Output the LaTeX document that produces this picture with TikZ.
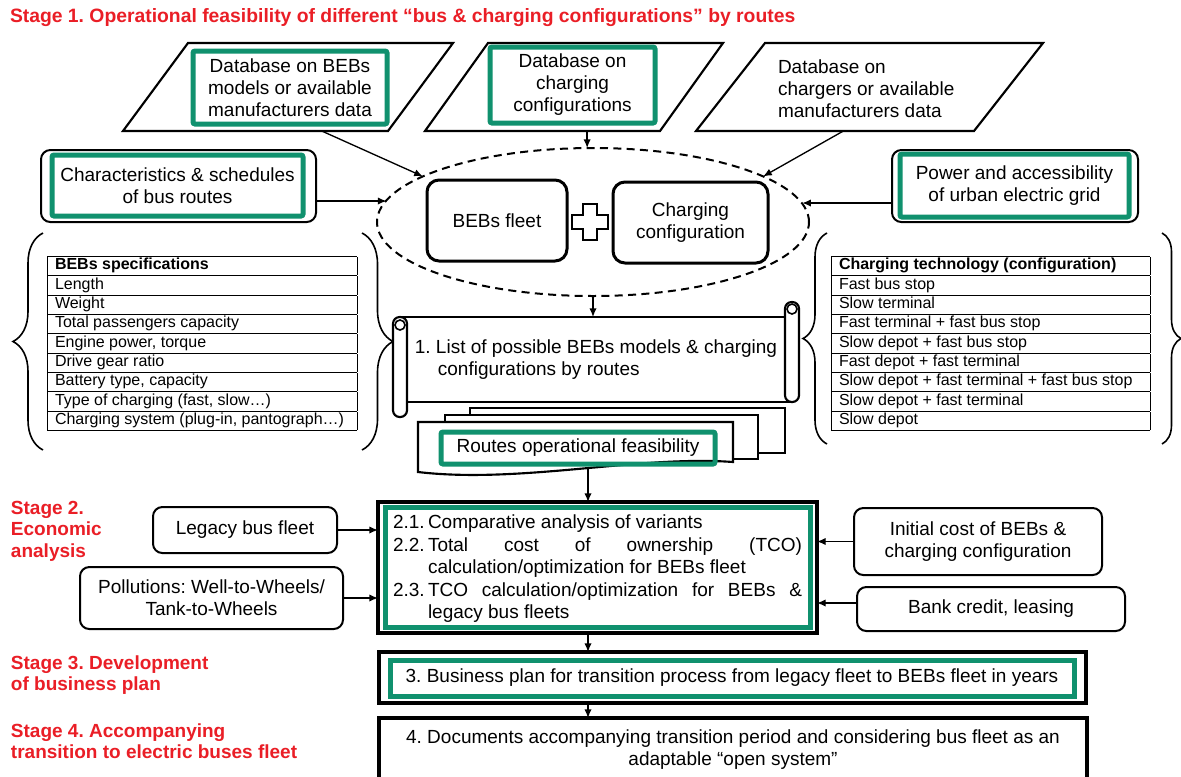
\documentclass[tikz,border=0pt]{standalone}
\usepackage{fontspec}
\setmainfont{Liberation Sans}
\usetikzlibrary{shapes.geometric,arrows.meta,calc,decorations.pathreplacing}
\definecolor{hlgreen}{RGB}{16,145,110}
\definecolor{stagered}{RGB}{234,30,38}

\newcommand\bodysize{\fontsize{14.25}{16.5}\selectfont}
\newcommand\tabsize{\fontsize{12}{13.75}\selectfont}
\newcommand\stagesize{\fontsize{14.25}{16.1}\selectfont\bfseries}

\begin{document}
\frenchspacing
\begin{tikzpicture}[x=0.75pt,y=-0.75pt,
  every node/.style={font=\bodysize, inner sep=0pt, outer sep=0pt},
  conn/.style={line width=1pt, -{Latex[length=6.5pt,width=5.5pt]}},
  dbline/.style={draw, line width=1.6pt},
  hlbox/.style={draw=hlgreen, line width=3.75pt, rounded corners=1.5pt, align=center},
  inbox/.style={draw, line width=1.5pt, rounded corners=7pt, align=center},
  stagebox/.style={draw, line width=3pt},
  stagelabel/.style={text=stagered, font=\stagesize, align=left, anchor=west},
  roll/.style={draw, line width=1.6pt, fill=white, rounded corners=5pt},
  page/.style={draw, line width=1.6pt, fill=white},
  bracepath/.style={draw, line width=1.2pt, decorate},
  spectab/.style={anchor=north west, font=\tabsize},
]
\useasboundingbox (0,0) rectangle (1181,776);
\fill[white] (0,0) rectangle (1181,776);

% ---------- Stage 1 ----------
\node[anchor=west, text=stagered, font=\fontsize{14.5}{16}\selectfont\bfseries] (title) at (10,18)
  {Stage 1. Operational feasibility of different “bus \& charging configurations” by routes};

% data sources (parallelograms)
\draw[dbline] (188,43) coordinate (db1tl) -- (453,43) coordinate (db1tr)
  -- (388,131) coordinate (db1br) -- (123,131) coordinate (db1bl) -- cycle;
\node[hlbox, minimum width=145.5pt, minimum height=54.75pt] (db1t) at (290,87.5)
  {Database on BEBs\\models or available\\manufacturers data};
\draw[dbline] (488,43) coordinate (db2tl) -- (723,43) coordinate (db2tr)
  -- (660,131) coordinate (db2br) -- (425,131) coordinate (db2bl) -- cycle;
\node[hlbox, minimum width=123.75pt, minimum height=57pt] (db2t) at (572.5,85)
  {Database on\\charging\\configurations};
\draw[dbline] (765,43) coordinate (db3tl) -- (1043,43) coordinate (db3tr)
  -- (974,131) coordinate (db3br) -- (696,131) coordinate (db3bl) -- cycle;
\node[anchor=west, align=left] (db3t) at (778,88.5)
  {Database on\\chargers or available\\manufacturers data};

% route and grid inputs
\node[inbox, minimum width=206.25pt, minimum height=54pt] (char) at (178.5,186) {};
\node[hlbox, minimum width=188.25pt, minimum height=45.75pt] (chart) at (177.5,185.5)
  {Characteristics \& schedules\\of bus routes};
\node[inbox, minimum width=184.5pt, minimum height=54pt] (grid) at (1015,186) {};
\node[hlbox, minimum width=171.75pt, minimum height=47.25pt] (gridt) at (1014.5,185.5)
  {Power and accessibility\\of urban electric grid};

% fleet + charging configuration
\node[ellipse, draw, line width=1.5pt, dash pattern=on 6pt off 4pt,
  minimum width=324pt, minimum height=111pt] (ens) at (593,222) {};
\node[draw, line width=2.25pt, rounded corners=9pt, minimum width=105pt, minimum height=60.75pt]
  (fleet) at (497,220.5) {BEBs fleet};
\node[draw, line width=2.25pt, rounded corners=9pt, minimum width=116.25pt, minimum height=60.75pt,
  align=center] (chcfg) at (690.5,222.5) {Charging\\configuration};
\coordinate (plus) at (590,222);
\draw[line width=2.2pt, fill=white] (plus) ++(-7,-18) -- ++(14,0) -- ++(0,11) -- ++(11,0)
  -- ++(0,14) -- ++(-11,0) -- ++(0,11) -- ++(-14,0) -- ++(0,-11) -- ++(-11,0)
  -- ++(0,-14) -- ++(11,0) -- cycle;

\draw[conn] ($(db1bl)!0.75!(db1br)$) -- (ens.165);
\coordinate (db2out) at ($(db2bl)!0.69!(db2br)$);
\draw[conn] (db2out) -- (db2out |- ens.north);
\draw[conn] ($(db3bl)!0.53!(db3br)$) -- (ens.15);
\coordinate (charout) at ([yshift=-11.25pt]char.east);
\draw[conn] (charout) -- (charout -| ens.174);
\coordinate (gridout) at ([yshift=-12.75pt]grid.west);
\draw[conn] (gridout) -- (gridout -| ens.5);

% specification tables
\node[spectab] (spec) at (47,256) {\setlength\tabcolsep{6pt}\setlength\arrayrulewidth{0.75pt}%
  \begin{tabular}{|p{220.5pt}|}\hline
  \textbf{BEBs specifications}\\\hline
  Length\\\hline
  Weight\\\hline
  Total passengers capacity\\\hline
  Engine power, torque\\\hline
  Drive gear ratio\\\hline
  Battery type, capacity\\\hline
  Type of charging (fast, slow…)\\\hline
  Charging system (plug-in, pantograph…)\\\hline
  \end{tabular}};
\node[spectab] (tech) at (831,256) {\setlength\tabcolsep{6pt}\setlength\arrayrulewidth{0.75pt}%
  \begin{tabular}{|p{227.25pt}|}\hline
  \textbf{Charging technology (configuration)}\\\hline
  Fast bus stop\\\hline
  Slow terminal\\\hline
  Fast terminal + fast bus stop\\\hline
  Slow depot + fast bus stop\\\hline
  Fast depot + fast terminal\\\hline
  Slow depot + fast terminal + fast bus stop\\\hline
  Slow depot + fast terminal\\\hline
  Slow depot\\\hline
  \end{tabular}};

% braces around the tables
\path[bracepath, decoration={brace, amplitude=22.5pt}] (43,450) -- (43,233);
\path[bracepath, decoration={brace, amplitude=23.25pt}] (362,233) -- (362,450);
\path[bracepath, decoration={brace, amplitude=18pt}] (827,444) -- (827,233);
\path[bracepath, decoration={brace, amplitude=14.25pt}] (1162,233) -- (1162,444);

% list of possible models (scroll)
\node[draw, line width=1.6pt, minimum width=294pt, minimum height=63.75pt, align=left]
  (lst) at (596,359.5)
  {1. List of possible BEBs models \& charging\\\hspace*{17.25pt}configurations by routes};
\draw[roll] (lst.north west) ++(-7,0) rectangle ++(14,100);
\draw[line width=1.2pt] ([shift={(0,8)}]lst.north west) circle[radius=3.75pt];
\draw[roll] (lst.south east) ++(-7,0) rectangle ++(14,-100);
\draw[line width=1.2pt] ([shift={(0,-8)}]lst.north east) circle[radius=3.75pt];
\draw[conn] (ens.south) -- (ens.south |- lst.north);

% routes operational feasibility (document stack)
\draw[page] (470,408) rectangle (785,453);
\draw[page] (445,415) rectangle (758,459);
\draw[page] (418,422) -- (733,422) -- (733,462) .. controls (640,455) and (520,484) .. (418,472) -- cycle;
\node[hlbox, minimum width=205.5pt, minimum height=24pt] (feas) at (578,448) {Routes operational feasibility};
\coordinate (feasbot) at (588,468);

% ---------- Stage 2 ----------
\node[stagelabel] (st2) at (11,531) {Stage 2.\\Economic\\analysis};
\node[stagebox, minimum width=329.25pt, minimum height=98.25pt] (s2) at (597.5,567.5) {};
\node[draw=hlgreen, line width=3.75pt, minimum width=318.75pt, minimum height=90pt] (s2g) at (597.5,567) {};
\node[anchor=west, align=left, font=\fontsize{14.25}{16.9}\selectfont] (s2t) at (393,569)
  {\makebox[26.25pt][l]{2.1.}Comparative analysis of variants\\
   \makebox[26.25pt][l]{2.2.}\makebox[280.5pt][s]{Total cost of ownership (TCO)}\\
   \hspace*{26.25pt}calculation/optimization for BEBs fleet\\
   \makebox[26.25pt][l]{2.3.}\makebox[280.5pt][s]{TCO calculation/optimization for BEBs \&}\\
   \hspace*{26.25pt}legacy bus fleets};

\node[inbox, minimum width=138pt, minimum height=34.5pt] (leg) at (245,530) {Legacy bus fleet};
\node[inbox, minimum width=197.25pt, minimum height=46.5pt] (pol) at (211.5,598)
  {Pollutions: Well-to-Wheels/\\Tank-to-Wheels};
\node[inbox, minimum width=186pt, minimum height=50.25pt] (ini) at (978,541.5)
  {Initial cost of BEBs \&\\charging configuration};
\node[inbox, minimum width=201pt, minimum height=33pt] (bank) at (991,609) {Bank credit, leasing};

\draw[conn] (leg.east) -- (leg.east -| s2.west);
\draw[conn] (pol.east) -- (pol.east -| s2.west);
\draw[conn] (ini.west) -- (ini.west -| s2.east);
\coordinate (bankout) at ([yshift=4.5pt]bank.west);
\draw[conn] (bankout) -- (bankout -| s2.east);
\draw[conn] (feasbot) -- (feasbot |- s2.north);

% ---------- Stage 3 ----------
\node[stagelabel] (st3) at (11,675) {Stage 3. Development\\of business plan};
\node[stagebox, minimum width=530.25pt, minimum height=38.25pt] (s3) at (732.5,677.5) {};
\node[draw=hlgreen, line width=3.75pt, minimum width=513pt, minimum height=27pt] (s3t) at (732,678)
  {3. Business plan for transition process from legacy fleet to BEBs fleet in years};
\draw[conn] (feasbot |- s2.south) -- (feasbot |- s3.north);

% ---------- Stage 4 ----------
\node[stagelabel] (st4) at (11,741) {Stage 4. Accompanying\\transition to electric buses fleet};
\node[stagebox, minimum width=531pt, minimum height=48pt, align=center] (s4) at (733,750)
  {4. Documents accompanying transition period and considering bus fleet as an\\adaptable “open system”};
\draw[conn] (feasbot |- s3.south) -- (feasbot |- s4.north);
\end{tikzpicture}
\end{document}
